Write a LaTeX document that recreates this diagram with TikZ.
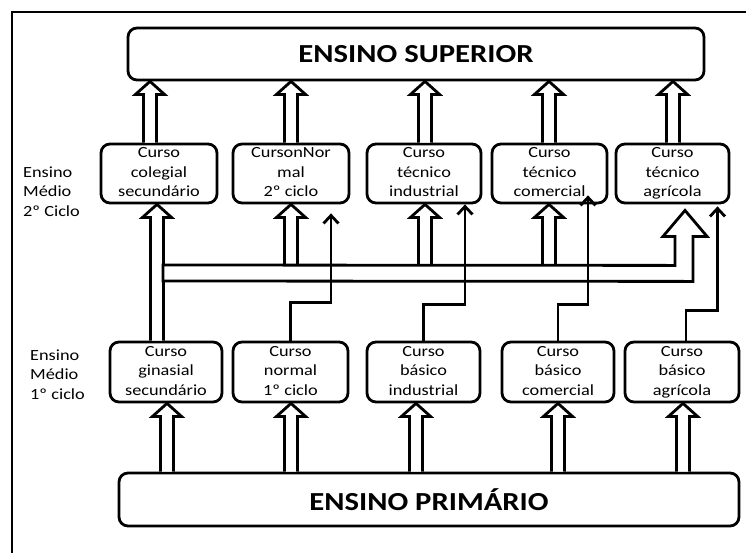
\documentclass[tikz,border=0pt]{standalone}
\usepackage{fontspec}
\setmainfont{Carlito}[FakeStretch=1.18]
\usetikzlibrary{arrows.meta,calc}

% Hollow block arrow pointing up: #1 = x position, #2 = foot anchor, #3 = tip anchor
\newcommand\fatup[3]{%
  \draw[fatarrow] let \p1=(#1,0 |- #2), \p2=(#1,0 |- #3) in
    (\x1-6.5pt,\y1) -- (\x1-6.5pt,\y2-13pt) -- (\x1-14.5pt,\y2-13pt) -- (\x1,\y2)
    -- (\x1+14.5pt,\y2-13pt) -- (\x1+6.5pt,\y2-13pt) -- (\x1+6.5pt,\y1);}

% three-line course label with even vertical extent
\newcommand\course[3]{\strut #1\\#2\\#3\strut}

\tikzset{
  lw/.style={line width=2.8pt},
  box/.style={lw, draw, rounded corners=9pt, fill=white, inner sep=0pt, align=center,
    font=\fontsize{15.5}{19.5}\selectfont},
  bigbox/.style={box, font=\fontsize{26}{30}\selectfont\bfseries},
  rowlabel/.style={anchor=west, align=left, inner sep=0pt, font=\fontsize{15.5}{19.5}\selectfont},
  fatarrow/.style={lw, draw, fill=white, line join=miter},
  link/.style={lw, draw, line join=miter, -{Straight Barb[length=8pt,width=15pt]}},
  frameline/.style={lw, draw}
}

\begin{document}
\begin{tikzpicture}[x=1pt,y=-1pt]
\useasboundingbox (0,0) rectangle (746,552);
\clip (0,0) rectangle (746,552);

% outer frame
\draw[frameline] (760,12) -- (12,12) -- (12,570);

% levels
\node[bigbox, minimum width=576pt, minimum height=52pt] (sup) at (416,54) {ENSINO SUPERIOR};
\node[bigbox, minimum width=620pt, minimum height=53pt] (prim) at (429,499.5) {ENSINO PRIMÁRIO};

% second cycle
\node[box, minimum width=116pt, minimum height=59pt] (m1) at (159,173.5) {\course{Curso}{colegial}{secundário}};
\node[box, minimum width=116pt, minimum height=59pt] (m2) at (291,173.5) {\course{CursonNor}{mal}{2º ciclo}};
\node[box, minimum width=114pt, minimum height=59pt] (m3) at (424,173.5) {\course{Curso}{técnico}{industrial}};
\node[box, minimum width=115pt, minimum height=59pt] (m4) at (549.5,173.5) {\course{Curso}{técnico}{comercial}};
\node[box, minimum width=113pt, minimum height=59pt] (m5) at (672.5,173.5) {\course{Curso}{técnico}{agrícola}};

% first cycle
\node[box, minimum width=112pt, minimum height=60pt] (b1) at (166,372) {\course{Curso}{ginasial}{secundário}};
\node[box, minimum width=115pt, minimum height=60pt] (b2) at (290.5,372) {\course{Curso}{normal}{1º ciclo}};
\node[box, minimum width=113pt, minimum height=60pt] (b3) at (423.5,372) {\course{Curso}{básico}{industrial}};
\node[box, minimum width=112pt, minimum height=60pt] (b4) at (558,372) {\course{Curso}{básico}{comercial}};
\node[box, minimum width=114pt, minimum height=60pt] (b5) at (682,372) {\course{Curso}{básico}{agrícola}};

% row labels
\node[rowlabel] (l2) at (23,193) {\course{Ensino}{Médio}{2º Ciclo}};
\node[rowlabel] (l1) at (30,376) {\course{Ensino}{Médio}{1º ciclo}};

% second cycle -> higher education
\fatup{150}{m1.north}{sup.south}
\fatup{291}{m2.north}{sup.south}
\fatup{425}{m3.north}{sup.south}
\fatup{549}{m4.north}{sup.south}
\fatup{673}{m5.north}{sup.south}

% primary -> first cycle
\fatup{167}{prim.north}{b1.south}
\fatup{291}{prim.north}{b2.south}
\fatup{416}{prim.north}{b3.south}
\fatup{558}{prim.north}{b4.south}
\fatup{683}{prim.north}{b5.south}

% ginasial -> colegial and the common band feeding the other courses
\coordinate (bandtop) at (0,265);
\fatup{157}{b1.north}{m1.south}
\fatup{291}{bandtop}{m2.south}
\fatup{425}{bandtop}{m3.south}
\fatup{549}{bandtop}{m4.south}
\coordinate (agtip) at ($(m5.south)+(12.5,6)$);
\draw[fatarrow] (163,265) -- ($(agtip)+(-10,55)$) -- ($(agtip)+(-10,26)$)
  -- ($(agtip)+(-22,26)$) -- (agtip) -- ($(agtip)+(22,26)$) -- ($(agtip)+(8,26)$)
  -- ($(agtip)+(8,71)$) -- (163,281) -- cycle;

% single-line links from the first cycle
\draw[link] (b2.north) -- ++(0,-38) -| ($(m2.south)+(40,9)$);
\draw[link] (b3.north) -- ++(0,-36) -| ($(m3.south)+(41,0)$);
\draw[link] (b4.north) -- ++(0,-36) -| ($(m4.south)+(38.5,-9)$);
\draw[link] ($(b5.north)+(4,0)$) -- ++(0,-30) -| ($(m5.south)+(45,2)$);
\end{tikzpicture}
\end{document}
